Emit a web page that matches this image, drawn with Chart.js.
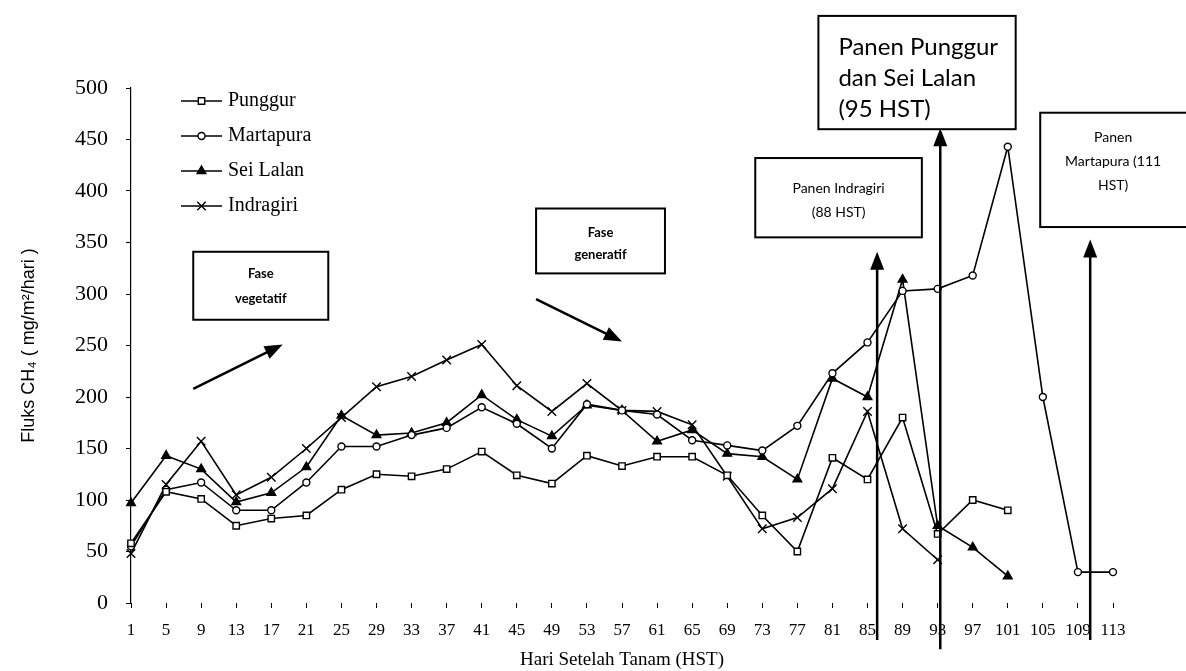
<!DOCTYPE html>
<html>
<head>
<meta charset="utf-8">
<script src="https://cdn.jsdelivr.net/npm/chart.js@4.4.0/dist/chart.umd.min.js"></script>
<style>
  html, body { margin: 0; padding: 0; background: #fff; overflow: hidden; }
</style>
</head>
<body>
<canvas id="fluxChart" width="1186" height="671"></canvas>
<script>
const days = [1, 5, 9, 13, 17, 21, 25, 29, 33, 37, 41, 45, 49, 53, 57, 61, 65, 69, 73, 77, 81, 85, 89, 93, 97, 101, 105, 109, 113];

const punggur = [58, 108, 101, 75, 82, 85, 110, 125, 123, 130, 147, 124, 116, 143, 133, 142, 142, 124, 85, 50, 141, 120, 180, 67, 100, 90, null, null, null];
const martapura = [55, 110, 117, 90, 90, 117, 152, 152, 163, 170, 190, 174, 150, 193, 187, 183, 158, 153, 148, 172, 223, 253, 303, 305, 318, 443, 200, 30, 30];
const seiLalan = [97, 143, 130, 98, 107, 132, 182, 163, 165, 175, 202, 178, 162, 192, 187, 157, 168, 145, 142, 120, 218, 200, 314, 75, 54, 26, null, null, null];
const indragiri = [48, 115, 157, 105, 122, 150, 180, 210, 220, 236, 251, 211, 186, 213, 187, 186, 173, 123, 72, 83, 111, 186, 72, 42, null, null, null, null, null];

const yTicks = [0, 50, 100, 150, 200, 250, 300, 350, 400, 450, 500];

// notes drawn on top of the chart, placed in day / flux units
const noteBoxes = [
  { d0: 8.1, d1: 23.5, v0: 341, v1: 275, lines: ["Fase", "vegetatif"], font: "bold 13px Lato", padTop: 22, lineH: 25, align: "center" },
  { d0: 47.2, d1: 61.9, v0: 383, v1: 320, lines: ["Fase", "generatif"], font: "bold 13px Lato", padTop: 24, lineH: 22, align: "center" },
  { d0: 72.2, d1: 91.2, v0: 432, v1: 355, lines: ["Panen Indragiri", "(88 HST)"], font: "14px Lato", padTop: 30, lineH: 24, align: "center" },
  { d0: 79.4, d1: 101.9, v0: 570, v1: 460, lines: ["Panen Punggur", "dan Sei Lalan", "(95 HST)"], font: "24px Lato", padTop: 31, lineH: 31, align: "left" },
  { d0: 104.7, d1: 122.5, v0: 476, v1: 365, lines: ["Panen", "Martapura (111", "HST)"], font: "14px Lato", padTop: 25, lineH: 24, align: "center" },
];

const noteArrows = [
  { d0: 8.1, v0: 208, d1: 18.3, v1: 251, width: 2.5 },
  { d0: 47.2, v0: 295, d1: 57.0, v1: 254, width: 2.5 },
  { d0: 86.1, v0: -36, d1: 86.1, v1: 341, width: 2.5 },
  { d0: 93.3, v0: -45, d1: 93.3, v1: 461, width: 2.5 },
  { d0: 110.4, v0: -36, d1: 110.4, v1: 353, width: 2.5 },
];

const dayToIndex = (d) => (d - 1) / 4;

function drawArrow(ctx, x0, y0, x1, y1, width) {
  const ang = Math.atan2(y1 - y0, x1 - x0);
  const headLen = 18, headW = 7;
  ctx.save();
  ctx.strokeStyle = "#000";
  ctx.fillStyle = "#000";
  ctx.lineWidth = width;
  ctx.beginPath();
  ctx.moveTo(x0, y0);
  ctx.lineTo(x1 - Math.cos(ang) * headLen * 0.8, y1 - Math.sin(ang) * headLen * 0.8);
  ctx.stroke();
  ctx.translate(x1, y1);
  ctx.rotate(ang);
  ctx.beginPath();
  ctx.moveTo(0, 0);
  ctx.lineTo(-headLen, -headW);
  ctx.lineTo(-headLen, headW);
  ctx.closePath();
  ctx.fill();
  ctx.restore();
}

const overlay = {
  id: "overlay",
  afterDraw(chart) {
    const ctx = chart.ctx;
    const xs = chart.scales.x, ys = chart.scales.y;
    const px = (d) => xs.getPixelForValue(dayToIndex(d));
    const py = (v) => ys.getPixelForValue(v);

    // legend inside the plot, line + marker + name
    const area = chart.chartArea;
    ctx.save();
    chart.data.datasets.forEach((ds, i) => {
      const y = area.top + 13 + i * 35;
      const x0 = area.left + 50, x1 = area.left + 91;
      ctx.strokeStyle = "#000";
      ctx.lineWidth = 1.5;
      ctx.beginPath();
      ctx.moveTo(x0, y);
      ctx.lineTo(x1, y);
      ctx.stroke();
      ctx.fillStyle = ds.pointBackgroundColor;
      ctx.strokeStyle = "#000";
      ctx.lineWidth = ds.pointBorderWidth;
      Chart.helpers.drawPoint(ctx, { pointStyle: ds.pointStyle, radius: ds.pointRadius, borderWidth: ds.pointBorderWidth }, (x0 + x1) / 2, y);
      ctx.fillStyle = "#000";
      ctx.font = "20px 'Liberation Serif'";
      ctx.textAlign = "left";
      ctx.textBaseline = "middle";
      ctx.fillText(ds.label, x1 + 6, y);
    });
    ctx.restore();

    noteArrows.forEach((a) => drawArrow(ctx, px(a.d0), py(a.v0), px(a.d1), py(a.v1), a.width));

    noteBoxes.forEach((b) => {
      const left = px(b.d0), right = px(b.d1), top = py(b.v0), bottom = py(b.v1);
      ctx.save();
      ctx.fillStyle = "#fff";
      ctx.fillRect(left, top, right - left, bottom - top);
      ctx.strokeStyle = "#000";
      ctx.lineWidth = 2;
      ctx.strokeRect(left, top, right - left, bottom - top);
      ctx.fillStyle = "#000";
      ctx.font = b.font;
      ctx.textBaseline = "middle";
      ctx.textAlign = b.align;
      const tx = b.align === "left" ? left + 20 : (left + Math.min(right, chart.width)) / 2;
      b.lines.forEach((t, k) => ctx.fillText(t, tx, top + b.padTop + k * b.lineH));
      ctx.restore();
    });
  },
};

const seriesStyle = (label, data, style, radius, fill) => ({
  label: label,
  data: data,
  borderColor: "#000",
  borderWidth: 1.6,
  pointStyle: style,
  pointRadius: radius,
  pointBorderWidth: 1.4,
  pointBorderColor: "#000",
  pointBackgroundColor: fill,
  tension: 0,
  clip: false,
});

const ctx = document.getElementById("fluxChart").getContext("2d");
const chart = new Chart(ctx, {
  type: "line",
  data: {
    labels: days.map(String),
    datasets: [
      seriesStyle("Punggur", punggur, "rect", 4.5, "#fff"),
      seriesStyle("Martapura", martapura, "circle", 3.5, "#fff"),
      seriesStyle("Sei Lalan", seiLalan, "triangle", 5, "#000"),
      seriesStyle("Indragiri", indragiri, "crossRot", 6, "#000"),
    ],
  },
  options: {
    responsive: false,
    animation: false,
    layout: { padding: { top: 88, right: 73, left: 0, bottom: 0 } },
    plugins: {
      legend: { display: false },
      tooltip: { enabled: false },
    },
    scales: {
      x: {
        type: "category",
        offset: false,
        afterFit: (s) => { s.height = 68; },
        border: { display: false },
        grid: { drawOnChartArea: false, tickLength: 5, color: "#000", lineWidth: 1 },
        ticks: { color: "#000", font: { family: "Liberation Serif", size: 17 }, padding: 12, maxRotation: 0, autoSkip: false },
        title: { display: true, text: "Hari Setelah Tanam (HST)", color: "#000", font: { family: "Liberation Serif", size: 19 }, padding: { top: 0, bottom: 0 } },
      },
      y: {
        min: 0,
        max: 500,
        afterFit: (s) => { s.width = 131; },
        afterBuildTicks: (s) => { s.ticks = yTicks.map((v) => ({ value: v })); },
        border: { display: true, color: "#000", width: 1.2 },
        grid: { drawOnChartArea: false, tickLength: 5, color: "#000" },
        ticks: { color: "#000", font: { family: "Liberation Serif", size: 22 }, padding: 18 },
        title: { display: true, text: "Fluks CH\u2084 ( mg/m\u00b2/hari )", color: "#000", font: { family: "Liberation Sans", size: 18 }, padding: { top: 18 } },
      },
    },
  },
  plugins: [overlay],
});
</script>
</body>
</html>
